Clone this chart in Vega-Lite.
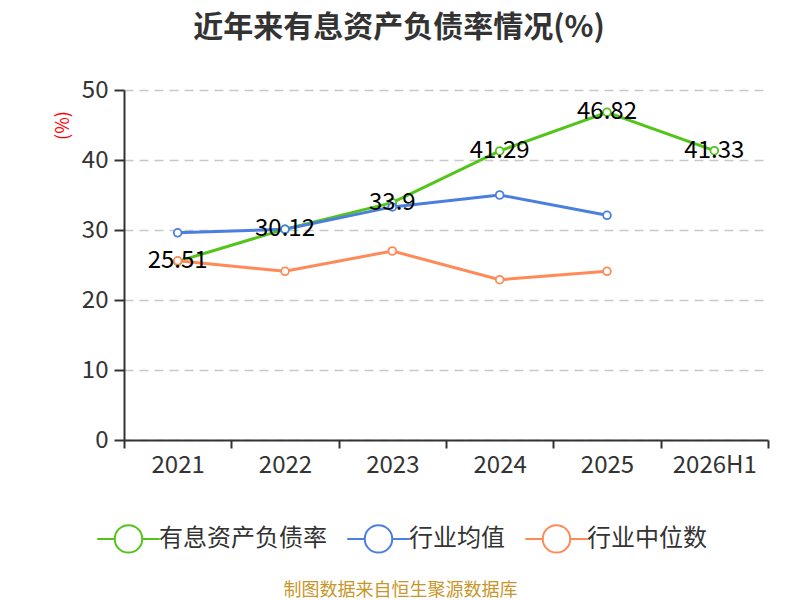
{
  "$schema": "https://vega.github.io/schema/vega-lite/v6.json",
  "autosize": {"type": "none"},
  "width": 644,
  "height": 350,
  "padding": {"left": 124, "top": 90, "right": 32, "bottom": 160},
  "background": "white",
  "title": {
    "text": "近年来有息资产负债率情况(%)",
    "anchor": "middle",
    "dx": -47,
    "offset": 35,
    "fontSize": 30,
    "fontWeight": "bold",
    "color": "#333333",
    "font": "Noto Sans CJK SC"
  },
  "config": {
    "font": "Noto Sans CJK SC",
    "view": {"stroke": null},
    "axis": {"domainColor": "#333333", "domainWidth": 2, "tickColor": "#333333", "tickWidth": 2, "labelColor": "#333333"}
  },
  "data": {
    "values": [
      {"year": "2021", "series": "有息资产负债率", "value": 25.51},
      {"year": "2022", "series": "有息资产负债率", "value": 30.12},
      {"year": "2023", "series": "有息资产负债率", "value": 33.9},
      {"year": "2024", "series": "有息资产负债率", "value": 41.29},
      {"year": "2025", "series": "有息资产负债率", "value": 46.82},
      {"year": "2026H1", "series": "有息资产负债率", "value": 41.33},
      {"year": "2021", "series": "行业均值", "value": 29.6},
      {"year": "2022", "series": "行业均值", "value": 30.1},
      {"year": "2023", "series": "行业均值", "value": 33.3},
      {"year": "2024", "series": "行业均值", "value": 35.0},
      {"year": "2025", "series": "行业均值", "value": 32.1},
      {"year": "2021", "series": "行业中位数", "value": 25.6},
      {"year": "2022", "series": "行业中位数", "value": 24.1},
      {"year": "2023", "series": "行业中位数", "value": 27.0},
      {"year": "2024", "series": "行业中位数", "value": 22.9},
      {"year": "2025", "series": "行业中位数", "value": 24.1}
    ]
  },
  "encoding": {
    "x": {
      "field": "year",
      "type": "ordinal",
      "bandPosition": 0.5,
      "sort": ["2021", "2022", "2023", "2024", "2025", "2026H1"],
      "scale": {"type": "band", "paddingInner": 0, "paddingOuter": 0},
      "axis": {
        "labelAngle": 0,
        "labelFontSize": 24,
        "labelPadding": 5,
        "tickBand": "extent",
        "tickSize": 8,
        "grid": false,
        "title": "制图数据来自恒生聚源数据库",
        "titleColor": "#c8962a",
        "titleFontSize": 18,
        "titleFontWeight": "normal",
        "titleX": 276,
        "titleY": 150,
        "titleAlign": "center",
        "titleBaseline": "middle"
      }
    },
    "y": {
      "field": "value",
      "type": "quantitative",
      "scale": {"domain": [0, 50]},
      "axis": {
        "values": [0, 10, 20, 30, 40, 50],
        "labelFontSize": 24,
        "labelPadding": 6,
        "tickSize": 10,
        "grid": true,
        "gridColor": "#c8c8c8",
        "gridDash": [9, 6],
        "gridWidth": 1.5,
        "title": "(%)",
        "titleColor": "#ff0000",
        "titleFontSize": 18,
        "titleFontWeight": "normal",
        "titleX": -61,
        "titleY": 35,
        "titleAlign": "center",
        "titleBaseline": "middle"
      }
    }
  },
  "layer": [
    {
      "mark": {
        "type": "line",
        "strokeWidth": 3,
        "point": {"filled": false, "fill": "white", "size": 60, "strokeWidth": 1.8}
      },
      "encoding": {
        "color": {
          "field": "series",
          "type": "nominal",
          "scale": {
            "domain": ["有息资产负债率", "行业均值", "行业中位数"],
            "range": ["#52c41a", "#4a7fe0", "#ff8a57"]
          },
          "legend": {
            "orient": "none",
            "direction": "horizontal",
            "legendX": -28,
            "legendY": 416,
            "title": null,
            "padding": 0,
            "labelFontSize": 24,
            "labelColor": "#333333",
            "labelLimit": 400,
            "labelOffset": -2,
            "columnPadding": 16,
            "symbolType": "M-1,0L-0.44,0M0.44,0L1,0M-0.44,0A0.44,0.44,0,1,1,0.44,0A0.44,0.44,0,1,1,-0.44,0Z",
            "symbolSize": 3900,
            "symbolStrokeWidth": 2,
            "symbolFillColor": "white"
          }
        }
      }
    },
    {
      "transform": [{"filter": "datum.series === '有息资产负债率'"}],
      "mark": {"type": "text", "fontSize": 24, "color": "#000000", "baseline": "middle", "align": "center"},
      "encoding": {
        "text": {"field": "value", "type": "quantitative"}
      }
    }
  ]
}
